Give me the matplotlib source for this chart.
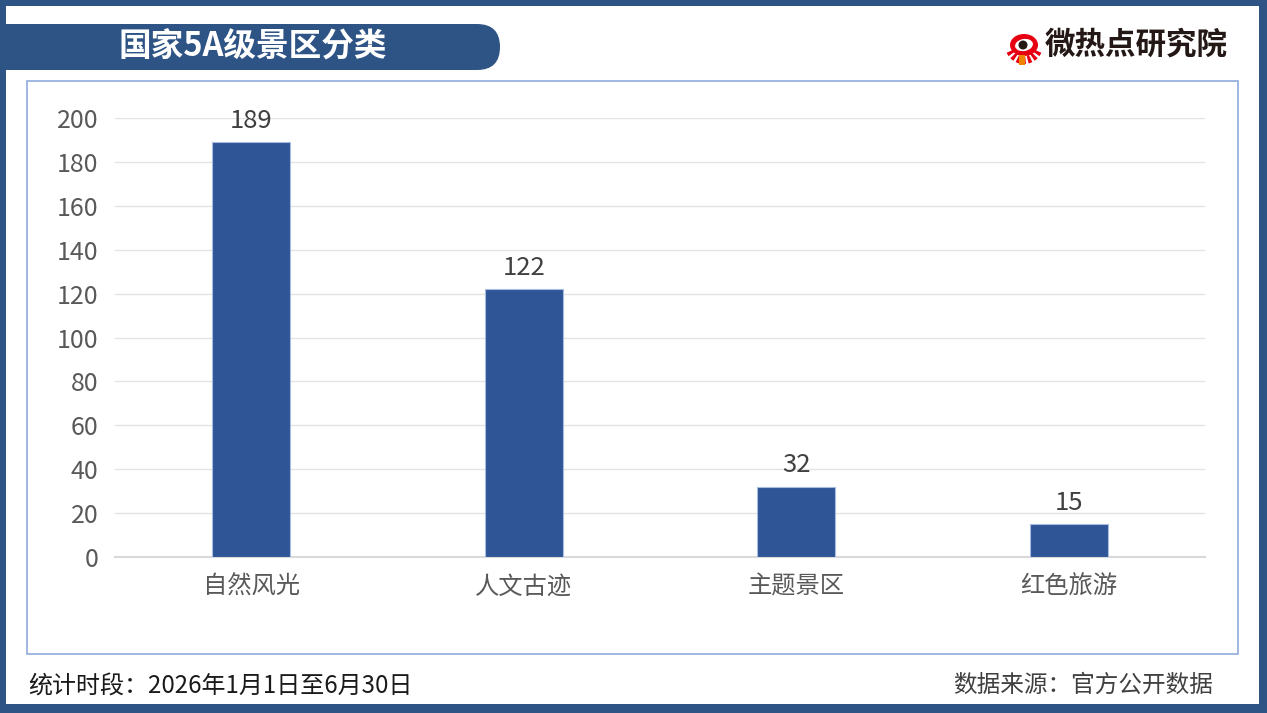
import matplotlib
matplotlib.use("Agg")
import matplotlib.pyplot as plt
from matplotlib.patches import Rectangle, FancyBboxPatch, Circle, Ellipse, Wedge

plt.rcParams['font.family'] = ['Noto Sans CJK SC', 'DejaVu Sans']

# 数据
categories = ["自然风光", "人文古迹", "主题景区", "红色旅游"]
counts = [189, 122, 32, 15]
y_ticks = [0, 20, 40, 60, 80, 100, 120, 140, 160, 180, 200]

title = "国家5A级景区分类"
brand = "微热点研究院"
period = "统计时段：2026年1月1日至6月30日"
source = "数据来源：官方公开数据"

W, H = 1267, 713
dark = "#2E5385"
bar_color = "#2F5597"

fig = plt.figure(figsize=(W / 100, H / 100), dpi=100)
fig.patch.set_facecolor("white")

# fondo en pixeles
bg = fig.add_axes([0, 0, 1, 1])
bg.set_xlim(0, W)
bg.set_ylim(H, 0)
bg.axis("off")

# borde exterior
bg.add_patch(Rectangle((0, 0), W, H, facecolor=dark, edgecolor="none"))
bg.add_patch(Rectangle((6, 6), 1253, 698, facecolor="white", edgecolor="none"))

# banda del titulo
bg.add_patch(FancyBboxPatch((-40, 24), 540, 46,
                            boxstyle="round,pad=0,rounding_size=23",
                            facecolor=dark, edgecolor="none"))
bg.text(253, 47, title, color="white", fontsize=23.5, fontweight="bold",
        ha="center", va="center")

# logo
for ang in range(30, 160, 20):
    bg.add_patch(Wedge((1024, 45), 19, ang - 6, ang + 6, width=8, facecolor="#E60012", edgecolor="none"))
bg.add_patch(Ellipse((1024, 45), 28, 22, facecolor="#E60012", edgecolor="none"))
bg.add_patch(Ellipse((1024, 45), 18, 12, angle=-10, facecolor="white", edgecolor="none"))
bg.add_patch(Circle((1023, 45), 4.5, facecolor="#231815", edgecolor="none"))
bg.add_patch(Rectangle((1019, 55), 6, 10, facecolor="#F08300", edgecolor="none"))
bg.text(1136, 45, brand, color="#231815", fontsize=22, fontweight="bold",
        ha="center", va="center")

# recuadro del grafico
bg.add_patch(Rectangle((27, 81), 1211, 573, facecolor="none",
                       edgecolor="#8FAADC", linewidth=1.2))

# pie
bg.text(28, 687, period, color="#1A1A1A", fontsize=17.3, ha="left", va="center")
bg.text(1213, 685, source, color="#404040", fontsize=17, ha="right", va="center")

# grafico de barras
ax = fig.add_axes([115 / W, (H - 557) / H, 1090 / W, (557 - 118) / H])
ax.set_facecolor("none")
x = range(len(categories))
bars = ax.bar(x, counts, width=0.286, color=bar_color,
              edgecolor="#A9BCE0", linewidth=0.8, zorder=3)
for b, v in zip(bars, counts):
    ax.annotate(str(v), (b.get_x() + b.get_width() / 2, v),
                xytext=(0, 6), textcoords="offset points",
                ha="center", va="bottom", fontsize=18.5, color="#404040")

ax.set_xlim(-0.5, len(categories) - 0.5)
ax.set_ylim(0, 200)
ax.set_yticks(y_ticks)
ax.set_xticks(list(x))
ax.set_xticklabels(categories)
ax.yaxis.grid(True, color="#E3E3E3", linewidth=1, zorder=0)
ax.tick_params(axis="y", length=0, pad=12, labelsize=18, labelcolor="#595959")
ax.tick_params(axis="x", length=0, pad=12, labelsize=17.5, labelcolor="#595959")
for s in ["top", "right", "left"]:
    ax.spines[s].set_visible(False)
ax.spines["bottom"].set_color("#D9D9D9")
ax.spines["bottom"].set_linewidth(1.5)

fig.savefig("out.png", dpi=100)
